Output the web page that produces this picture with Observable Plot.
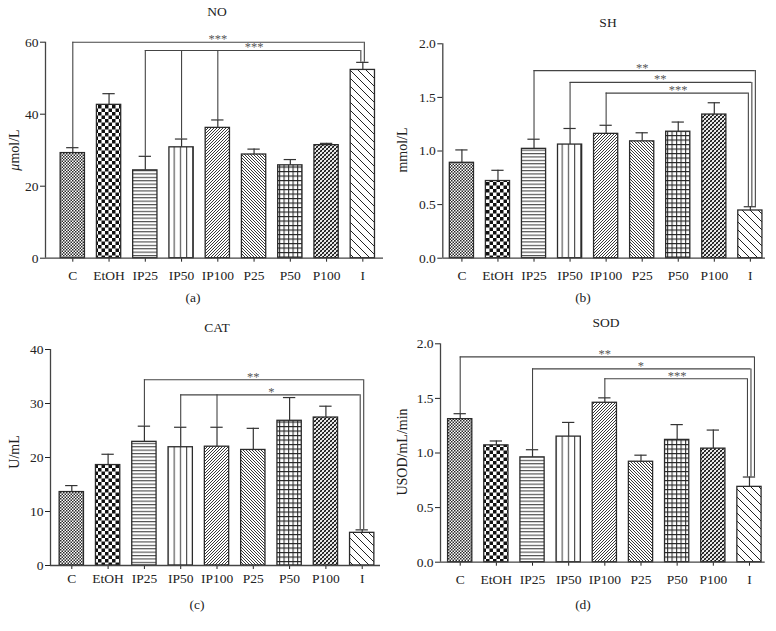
<!DOCTYPE html>
<html>
<head>
<meta charset="utf-8">
<script src="https://cdn.jsdelivr.net/npm/d3@7"></script>
<script src="https://cdn.jsdelivr.net/npm/@observablehq/plot@0.6"></script>
<style>
  html, body { margin: 0; padding: 0; background: #fff; }
  #wrap { position: relative; width: 776px; height: 631px; background: #fff; font-family: "Liberation Serif", "Times New Roman", serif; color: #222; overflow: hidden; }
  .pan { position: absolute; }
  .pan text { font-size: 13.5px; }
  .pan g[aria-label="text"] text { font-size: 12.5px; }
  .lab { position: absolute; transform: translate(-50%, -50%); white-space: nowrap; font-size: 13.5px; }
  .ylab { position: absolute; transform: translate(-50%, -50%) rotate(-90deg); white-space: nowrap; font-size: 14px; }
</style>
</head>
<body>
<svg width="0" height="0" style="position:absolute">
  <defs>
    <pattern id="pC" width="3" height="3" patternUnits="userSpaceOnUse">
      <rect width="3" height="3" fill="#fff"/>
      <rect width="1.5" height="1.5" fill="#2a2a2a"/>
      <rect x="1.5" y="1.5" width="1.5" height="1.5" fill="#2a2a2a"/>
    </pattern>
    <pattern id="pEtOH" width="7" height="7" patternUnits="userSpaceOnUse">
      <rect width="7" height="7" fill="#fff"/>
      <rect width="3.5" height="3.5" fill="#111"/>
      <rect x="3.5" y="3.5" width="3.5" height="3.5" fill="#111"/>
    </pattern>
    <pattern id="pIP25" width="4" height="3.4" patternUnits="userSpaceOnUse">
      <rect width="4" height="3.4" fill="#fff"/>
      <path d="M0,0.6 H4" stroke="#333" stroke-width="1"/>
    </pattern>
    <pattern id="pIP50" width="6.2" height="4" patternUnits="userSpaceOnUse">
      <rect width="6.2" height="4" fill="#fff"/>
      <path d="M0.6,0 V4" stroke="#333" stroke-width="1"/>
    </pattern>
    <pattern id="pIP100" width="3" height="3" patternUnits="userSpaceOnUse">
      <rect width="3" height="3" fill="#fff"/>
      <path d="M-0.75,0.75 L0.75,-0.75 M0,3 L3,0 M2.25,3.75 L3.75,2.25" stroke="#222" stroke-width="0.9"/>
    </pattern>
    <pattern id="pP25" width="3" height="3" patternUnits="userSpaceOnUse">
      <rect width="3" height="3" fill="#fff"/>
      <path d="M-0.75,2.25 L0.75,3.75 M0,0 L3,3 M2.25,-0.75 L3.75,0.75" stroke="#222" stroke-width="0.9"/>
    </pattern>
    <pattern id="pP50" width="4.5" height="4.5" patternUnits="userSpaceOnUse">
      <rect width="4.5" height="4.5" fill="#fff"/>
      <path d="M0,0.6 H4.5 M0.6,0 V4.5" stroke="#222" stroke-width="1"/>
    </pattern>
    <pattern id="pP100" width="4" height="4" patternUnits="userSpaceOnUse">
      <rect width="4" height="4" fill="#fff"/>
      <path d="M-1,1 L1,-1 M0,4 L4,0 M3,5 L5,3" stroke="#111" stroke-width="1.7"/>
      <path d="M0,0 L4,4" stroke="#fff" stroke-width="0.8"/>
    </pattern>
    <pattern id="pI" width="8" height="8" patternUnits="userSpaceOnUse">
      <rect width="8" height="8" fill="#fff"/>
      <path d="M-2,6 L2,10 M0,0 L8,8 M6,-2 L10,2" stroke="#222" stroke-width="1"/>
    </pattern>
  </defs>
</svg>
<div id="wrap"></div>
<script>
// ---------- data ----------
const categories = ["C", "EtOH", "IP25", "IP50", "IP100", "P25", "P50", "P100", "I"];
const patternIds = ["pC", "pEtOH", "pIP25", "pIP50", "pIP100", "pP25", "pP50", "pP100", "pI"];

const noMean  = [29.2, 42.6, 24.4, 30.8, 36.2, 28.8, 25.8, 31.4, 52.3];
const noErr   = [1.5, 3.1, 3.9, 2.3, 2.2, 1.5, 1.6, 0.5, 2.1];
const shMean  = [0.89, 0.72, 1.02, 1.06, 1.16, 1.09, 1.18, 1.34, 0.445];
const shErr   = [0.12, 0.10, 0.09, 0.15, 0.08, 0.08, 0.09, 0.11, 0.035];
const catMean = [13.6, 18.6, 22.9, 21.9, 22.0, 21.4, 26.8, 27.4, 6.05];
const catErr  = [1.2, 2.0, 2.9, 3.7, 3.6, 4.0, 4.3, 2.1, 0.55];
const sodMean = [1.31, 1.07, 0.96, 1.15, 1.46, 0.92, 1.12, 1.04, 0.69];
const sodErr  = [0.05, 0.04, 0.07, 0.13, 0.045, 0.06, 0.14, 0.17, 0.09];

const noBrackets  = [{from: ["C"], level: 60, label: "***"}, {from: ["IP25", "IP50", "IP100"], level: 57.7, label: "***"}];
const shBrackets  = [{from: ["IP25"], level: 1.75, label: "**"}, {from: ["IP50"], level: 1.64, label: "**"}, {from: ["IP100"], level: 1.54, label: "***"}];
const catBrackets = [{from: ["IP25"], level: 34.4, label: "**"}, {from: ["IP50", "IP100"], level: 31.6, label: "*"}];
const sodBrackets = [{from: ["C"], level: 1.88, label: "**"}, {from: ["IP25"], level: 1.77, label: "*"}, {from: ["IP100"], level: 1.68, label: "***"}];

const noTicks = [0, 20, 40, 60];
const shTicks = [0, 0.5, 1, 1.5, 2];
const catTicks = [0, 10, 20, 30, 40];
const sodTicks = [0, 0.5, 1, 1.5, 2];

// ---------- drawing ----------
const wrap = document.getElementById("wrap");

function panel(cfg) {
  const {mean, err, brackets, yTicks, yFmt, xDom, w, h, mL, mR, mT, mB, xPad, left, top} = cfg;
  const yMax = yTicks[yTicks.length - 1];
  const rows = categories.map((c, i) => ({i, v: mean[i], top: mean[i] + err[i], fill: `url(#${patternIds[i]})`}));
  const iI = categories.indexOf("I");
  const step = (w - mL - mR) / (xDom[1] - xDom[0]);
  const n = brackets.length;
  const axisColor = "#444";
  const marks = [
    Plot.rectY(rows, {x1: d => d.i - 0.335, x2: d => d.i + 0.335, y1: 0, y2: "v", fill: "fill", stroke: "#2b2b2b", strokeWidth: 1.3}),
    Plot.ruleX(rows, {x: "i", y1: "v", y2: "top", stroke: "#333", strokeWidth: 1.2}),
    Plot.ruleY(rows, {y: "top", x1: d => d.i - 0.17, x2: d => d.i + 0.17, stroke: "#333", strokeWidth: 1.2}),
    Plot.ruleY([0], {stroke: axisColor, strokeWidth: 1.3}),
    Plot.ruleX([xDom[0]], {y1: 0, y2: yMax, stroke: axisColor, strokeWidth: 1.3})
  ];
  brackets.forEach((b, k) => {
    const from = b.from.map(c => categories.indexOf(c));
    const lft = Math.min(...from);
    const rgt = iI + (3.5 * (n - 1 - k) - 2) / step;
    marks.push(Plot.ruleY([b], {y: "level", x1: lft, x2: rgt, stroke: "#444", strokeWidth: 1.1}));
    marks.push(Plot.ruleX(from, {x: d => d, y1: d => rows[d].top, y2: b.level, stroke: "#444", strokeWidth: 1.1}));
    marks.push(Plot.ruleX([rgt], {x: d => d, y1: rows[iI].top, y2: b.level, stroke: "#444", strokeWidth: 1.1}));
    marks.push(Plot.text([b], {x: (lft + iI) / 2, y: "level", text: "label", dy: -3, fill: "#555", opacity: 0.99}));
  });
  const svg = Plot.plot({
    width: w, height: h,
    marginLeft: mL, marginRight: mR, marginTop: mT, marginBottom: mB,
    color: {type: "identity"},
    x: {domain: xDom, ticks: d3.range(categories.length), tickFormat: i => categories[i], tickSize: 4, tickPadding: xPad, label: null},
    y: {domain: [0, yMax], ticks: yTicks, tickFormat: yFmt, tickSize: 5, tickPadding: 2, label: null},
    style: {fontFamily: "Liberation Serif, Times New Roman, serif", fontSize: "13.5px", color: "#222", background: "transparent", overflow: "visible"},
    marks
  });
  svg.classList.add("pan");
  svg.style.left = left + "px";
  svg.style.top = top + "px";
  wrap.appendChild(svg);
}

function label(text, x, y, cls, html) {
  const d = document.createElement("div");
  d.className = cls;
  if (html) d.innerHTML = text; else d.textContent = text;
  d.style.left = x + "px";
  d.style.top = y + "px";
  wrap.appendChild(d);
}

const f0 = d3.format("d");
const f1 = d3.format(".1f");

panel({mean: noMean, err: noErr, brackets: noBrackets, yTicks: noTicks, yFmt: f0,
  xDom: [-0.753, 8.57], w: 388, h: 290, mL: 45, mR: 5, mT: 41.7, mB: 32.3, xPad: 8, left: 0, top: 0});
panel({mean: shMean, err: shErr, brackets: shBrackets, yTicks: shTicks, yFmt: f1,
  xDom: [-0.53, 8.42], w: 388, h: 290, mL: 54.3, mR: 11, mT: 43.3, mB: 32.3, xPad: 8, left: 388, top: 0});
panel({mean: catMean, err: catErr, brackets: catBrackets, yTicks: catTicks, yFmt: f0,
  xDom: [-0.587, 8.504], w: 388, h: 295, mL: 50, mR: 8, mT: 49, mB: 30, xPad: 4, left: 0, top: 300});
panel({mean: sodMean, err: sodErr, brackets: sodBrackets, yTicks: sodTicks, yFmt: f1,
  xDom: [-0.545, 8.435], w: 388, h: 295, mL: 52, mR: 11.3, mT: 43.3, mB: 33.3, xPad: 8, left: 388, top: 300});

label("NO", 217, 12, "lab");
label("SH", 608, 23, "lab");
label("CAT", 217, 328, "lab");
label("SOD", 606, 323, "lab");
label("(a)", 193, 298, "lab");
label("(b)", 583, 298, "lab");
label("(c)", 197, 605, "lab");
label("(d)", 583, 605, "lab");
label("<i>μ</i>mol/L", 15, 150, "ylab", true);
label("mmol/L", 403, 150, "ylab");
label("U/mL", 15, 452, "ylab");
label("USOD/mL/min", 403, 452, "ylab");
</script>
</body>
</html>
